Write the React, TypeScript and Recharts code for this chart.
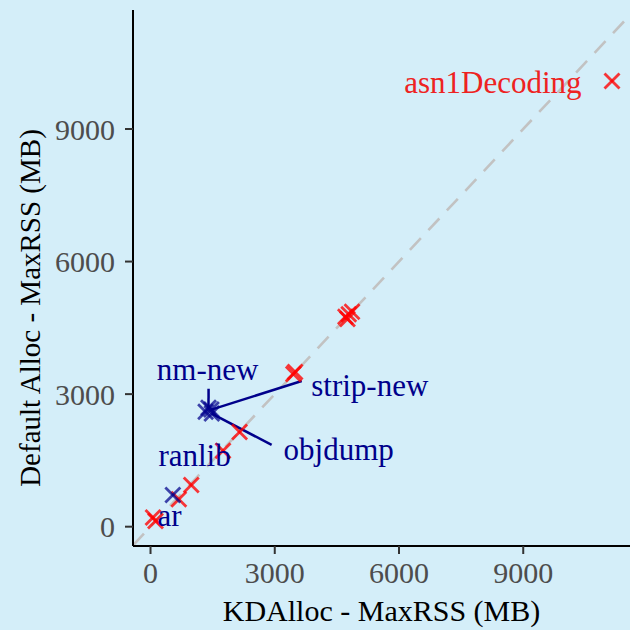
import { ScatterChart, Scatter, XAxis, YAxis, ReferenceLine } from "recharts";

// KDAlloc vs default allocator, MaxRSS in MB
const worseRuns = [
  { name: "asn1Decoding", kd: 11143, def: 10086 },
  { name: "", kd: 4706, def: 4752 },
  { name: "", kd: 4786, def: 4806 },
  { name: "", kd: 4866, def: 4865 },
  { name: "", kd: 4755, def: 4700 },
  { name: "", kd: 3450, def: 3455 },
  { name: "", kd: 3490, def: 3500 },
  { name: "", kd: 2151, def: 2142 },
  { name: "", kd: 1750, def: 1720 },
  { name: "", kd: 984, def: 944 },
  { name: "", kd: 684, def: 620 },
  { name: "", kd: 120, def: 130 },
  { name: "", kd: 60, def: 210 },
];

const betterRuns = [
  { name: "nm-new", kd: 1400, def: 2690 },
  { name: "strip-new", kd: 1470, def: 2650 },
  { name: "objdump", kd: 1480, def: 2560 },
  { name: "ranlib", kd: 1330, def: 2600 },
  { name: "ar", kd: 539, def: 717 },
];

// where the repelled labels ended up (data units)
const labelNames = ["asn1Decoding", "nm-new", "strip-new", "objdump", "ranlib", "ar"];
const labelKd = [8267, 1378, 5294, 4544, 1064, 459];
const labelDef = [10041, 3546, 3206, 1736, 1622, 242];
const labelColors = ["#EE2222", "#00008B", "#00008B", "#00008B", "#00008B", "#00008B"];

// leader segments: label side -> point
const leaderNames = ["nm-new", "strip-new", "objdump"];
const leaderKd = [1402, 3650, 2925];
const leaderDef = [3120, 3297, 1850];

const xTicks = [0, 3000, 6000, 9000];
const yTicks = [0, 3000, 6000, 9000];
const xDomain = [-423, 11578];
const yDomain = [-437, 11693];

const labels = labelNames.map((n, i) => ({
  name: n,
  kd: labelKd[i],
  def: labelDef[i],
  color: labelColors[i],
}));

const FONT = "Liberation Serif, serif";

const cross = (color: string) => (props: any) => {
  const { cx, cy } = props;
  const r = 7.5;
  return (
    <g stroke={color} strokeWidth={2.8}>
      <line x1={cx - r} y1={cy - r} x2={cx + r} y2={cy + r} />
      <line x1={cx - r} y1={cy + r} x2={cx + r} y2={cy - r} />
    </g>
  );
};

const labelShape = (props: any) => {
  const { cx, cy, payload } = props;
  return (
    <text
      x={cx}
      y={cy}
      textAnchor="middle"
      dominantBaseline="central"
      style={{ fontFamily: FONT, fontSize: 31 }}
      fill={payload.color}
    >
      {payload.name}
    </text>
  );
};

const XTitle = (props: any) => {
  const vb = props.viewBox;
  return (
    <text
      x={vb.x + vb.width / 2}
      y={vb.y + 64}
      textAnchor="middle"
      dominantBaseline="central"
      style={{ fontFamily: FONT, fontSize: 30 }}
      fill="#000"
    >
      KDAlloc - MaxRSS (MB)
    </text>
  );
};

const YTitle = (props: any) => {
  const vb = props.viewBox;
  const cx = 30;
  const cy = vb.y + vb.height / 2 + 30;
  return (
    <text
      x={cx}
      y={cy}
      transform={`rotate(-90 ${cx} ${cy})`}
      textAnchor="middle"
      dominantBaseline="central"
      style={{ fontFamily: FONT, fontSize: 29 }}
      fill="#000"
    >
      Default Alloc - MaxRSS (MB)
    </text>
  );
};

const tickStyle = { fill: "#4D4D4D", fontSize: 30, fontFamily: FONT };

export default function App() {
  return (
    <div
      style={{
        position: "absolute",
        left: 0,
        top: 0,
        width: 630,
        height: 630,
        background: "#D4EEF9",
        fontFamily: FONT,
      }}
    >
      <ScatterChart width={630} height={630} margin={{ top: 10, right: 0, bottom: 0, left: 0 }}>
        <XAxis
          type="number"
          dataKey="kd"
          domain={xDomain}
          ticks={xTicks}
          allowDataOverflow
          height={84}
          axisLine={{ stroke: "#000", strokeWidth: 2 }}
          tickLine={{ stroke: "#333", strokeWidth: 2 }}
          tickSize={8}
          tickMargin={8}
          tick={tickStyle}
          label={XTitle}
        />
        <YAxis
          type="number"
          dataKey="def"
          domain={yDomain}
          ticks={yTicks}
          allowDataOverflow
          width={133}
          axisLine={{ stroke: "#000", strokeWidth: 2 }}
          tickLine={{ stroke: "#333", strokeWidth: 2 }}
          tickSize={8}
          tickMargin={10}
          tick={tickStyle}
          label={YTitle}
        />
        <ReferenceLine
          segment={[
            { x: xDomain[0], y: xDomain[0] },
            { x: xDomain[1], y: xDomain[1] },
          ]}
          stroke="#C2C2C2"
          strokeWidth={2.6}
          strokeDasharray="16 11"
        />
        {leaderNames.map((n, i) => {
          const p = betterRuns.find((b) => b.name === n)!;
          return (
            <ReferenceLine
              key={n}
              segment={[
                { x: leaderKd[i], y: leaderDef[i] },
                { x: p.kd, y: p.def },
              ]}
              stroke="#00008B"
              strokeWidth={2.5}
            />
          );
        })}
        <Scatter data={worseRuns} shape={cross("rgba(255,0,0,0.78)")} isAnimationActive={false} />
        <Scatter data={betterRuns} shape={cross("rgba(0,0,139,0.72)")} isAnimationActive={false} />
        <Scatter data={labels} shape={labelShape} isAnimationActive={false} />
      </ScatterChart>
    </div>
  );
}
